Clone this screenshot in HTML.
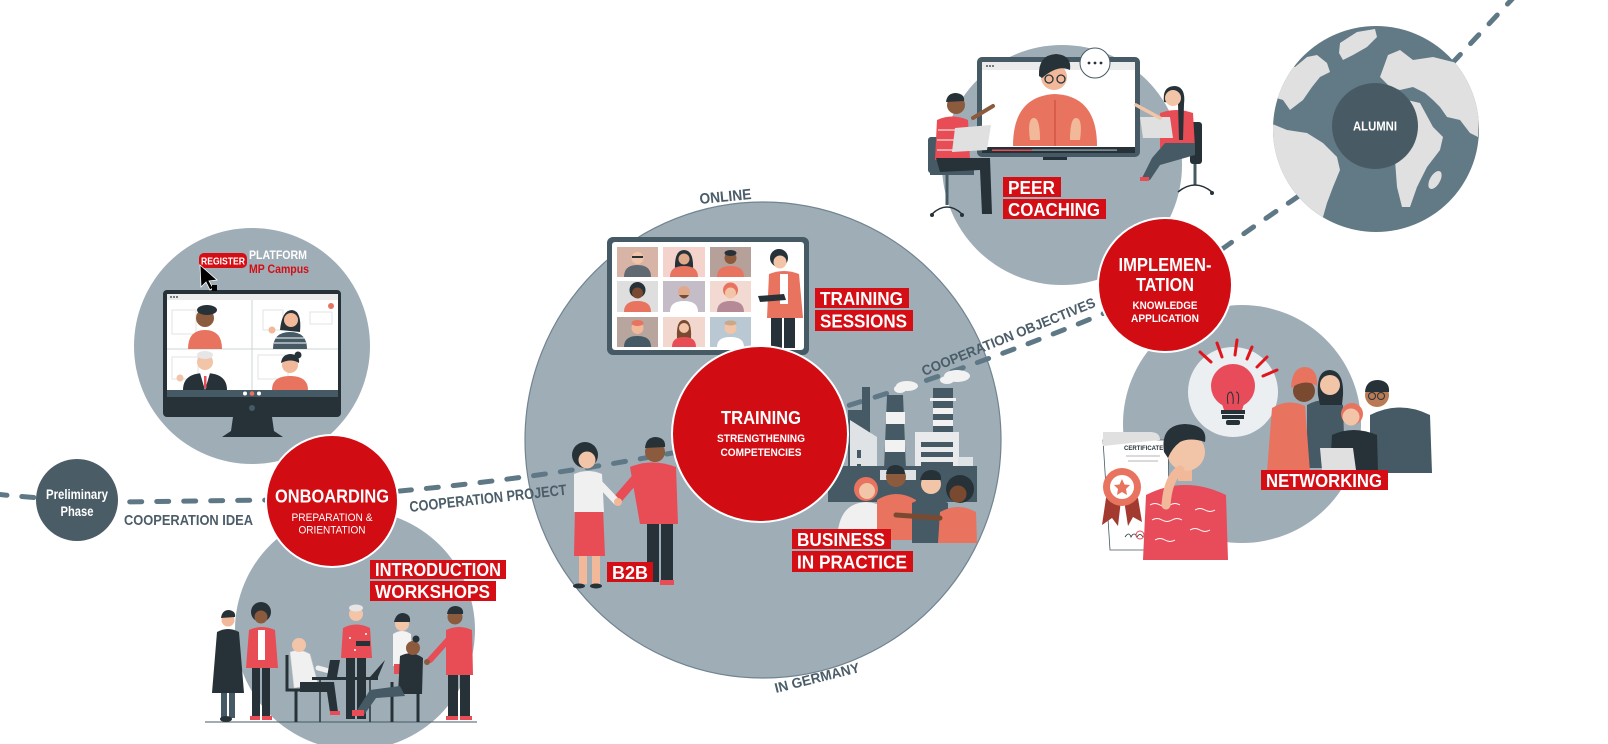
<!DOCTYPE html>
<html><head><meta charset="utf-8"><style>
html,body{margin:0;padding:0;background:#fff;overflow:hidden;}
svg{display:block;}
text{font-family:"Liberation Sans",Arial,sans-serif;}
</style></head><body>
<svg width="1608" height="744" viewBox="0 0 1608 744" xmlns="http://www.w3.org/2000/svg">
<defs>
<clipPath id="gc"><circle cx="1376" cy="129" r="103"/></clipPath>
</defs>
<!-- gray circles -->
<circle cx="252" cy="346" r="118" fill="#9fadb7"/>
<circle cx="355" cy="630" r="120" fill="#9fadb7"/>
<circle cx="763" cy="440" r="238" fill="#9fadb7" stroke="#71848f" stroke-width="1.2"/>
<circle cx="1062" cy="165" r="120" fill="#9fadb7"/>
<circle cx="1242" cy="424" r="119" fill="#9fadb7"/>

<!-- dashed path -->
<path d="M-5 494 Q40 499 120 502 L270 500 Q330 498 400 491 Q540 478 672 453 Q760 434 850 405 Q980 365 1100 315 Q1170 285 1225 247 Q1260 222 1293 200 Q1380 140 1458 57 L1515 -4" fill="none" stroke="#5f7886" stroke-width="5" stroke-dasharray="12 15" stroke-linecap="round"/>

<!-- ===== PLATFORM MONITOR ===== -->
<rect x="163" y="290" width="178" height="127" rx="4" fill="#263238"/>
<rect x="167" y="294" width="171" height="96" fill="#fff"/>
<rect x="167" y="294" width="171" height="6" fill="#ebebeb"/>
<circle cx="171" cy="297" r="1" fill="#455a64"/><circle cx="174" cy="297" r="1" fill="#455a64"/><circle cx="177" cy="297" r="1" fill="#455a64"/>
<line x1="252" y1="300" x2="252" y2="390" stroke="#cfd4d7" stroke-width="1"/>
<line x1="167" y1="349" x2="338" y2="349" stroke="#cfd4d7" stroke-width="1"/>
<rect x="172" y="310" width="24" height="24" fill="none" stroke="#e3e3e3"/>
<rect x="263" y="310" width="20" height="20" fill="none" stroke="#e3e3e3"/>
<rect x="310" y="312" width="22" height="12" fill="none" stroke="#e3e3e3"/>
<rect x="172" y="357" width="26" height="22" fill="none" stroke="#e3e3e3"/>
<rect x="258" y="355" width="30" height="24" fill="none" stroke="#e3e3e3"/>
<circle cx="331" cy="306" r="3" fill="#e8735f"/>
<!-- tile1 -->
<path d="M188 349 Q188 330 205 330 Q222 330 222 349 Z" fill="#e8735f"/>
<circle cx="205" cy="318" r="9" fill="#8c5a3c"/>
<ellipse cx="207" cy="310" rx="10" ry="5" fill="#263238"/>
<!-- tile2 -->
<path d="M273 349 Q273 332 290 332 Q307 332 307 349 Z" fill="#455a64"/>
<line x1="275" y1="338" x2="305" y2="338" stroke="#fff" stroke-width="1"/><line x1="274" y1="343" x2="306" y2="343" stroke="#fff" stroke-width="1"/>
<path d="M280 330 Q282 310 292 310 Q302 311 300 332 Z" fill="#263238"/>
<circle cx="291" cy="320" r="7" fill="#f2b89a"/>
<circle cx="272" cy="330" r="3.5" fill="#f2b89a"/>
<!-- tile3 -->
<path d="M183 390 Q183 373 205 373 Q227 373 227 390 Z" fill="#263238"/>
<path d="M200 373 L205 390 L210 373 Z" fill="#fff"/>
<rect x="204" y="376" width="2.5" height="12" fill="#e8505b"/>
<circle cx="205" cy="362" r="8" fill="#f2c4a8"/>
<ellipse cx="205" cy="355" rx="8" ry="4" fill="#e6e6e6"/>
<circle cx="180" cy="378" r="3.5" fill="#f2c4a8"/>
<!-- tile4 -->
<path d="M272 390 Q272 376 290 376 Q308 376 308 390 Z" fill="#e8735f"/>
<circle cx="290" cy="365" r="8" fill="#f2b89a"/>
<path d="M281 363 Q282 354 291 354 Q300 355 299 363 Q291 358 281 363 Z" fill="#263238"/>
<circle cx="298" cy="355" r="3.5" fill="#263238"/>
<!-- bottom bar -->
<rect x="167" y="390" width="171" height="7" fill="#455a64"/>
<circle cx="245" cy="393.5" r="2" fill="#fff"/><circle cx="252" cy="393.5" r="2.3" fill="#e8735f"/><circle cx="259" cy="393.5" r="2" fill="#fff"/>
<circle cx="252" cy="408" r="3" fill="#455a64"/>
<path d="M233 417 L272 417 L274 431 L283 437 L222 437 L231 431 Z" fill="#263238"/>
<!-- register -->
<rect x="199" y="253" width="48" height="15" rx="5" fill="#d40e14"/>
<text x="201" y="264.5" font-size="10.5" font-weight="bold" fill="#fff" textLength="44" lengthAdjust="spacingAndGlyphs">REGISTER</text>
<path d="M200 265 L201 287 L206 282 L210 290 L213 288 L209 281 L217 280 Z" fill="#000" stroke="#fff" stroke-width="0.8"/>
<rect x="212" y="285" width="5" height="6" fill="#000"/>
<text x="249" y="259" font-size="12" font-weight="bold" fill="#fff" textLength="58" lengthAdjust="spacingAndGlyphs">PLATFORM</text>
<text x="249" y="273" font-size="12" font-weight="bold" fill="#d40e14" textLength="60" lengthAdjust="spacingAndGlyphs">MP Campus</text>

<!-- ===== WORKSHOP PEOPLE ===== -->
<line x1="205" y1="722" x2="477" y2="722" stroke="#455a64" stroke-width="1"/>
<!-- 1 black dress -->
<rect x="221" y="690" width="6" height="28" fill="#455a64"/><rect x="229" y="690" width="6" height="28" fill="#455a64"/>
<path d="M217 632 Q228 626 239 632 L244 693 L212 693 Z" fill="#263238"/>
<circle cx="228" cy="620" r="6.5" fill="#f2b89a"/>
<path d="M221 618 Q222 610 229 610 Q236 611 235 617 Z" fill="#263238"/>
<ellipse cx="226" cy="719" rx="6" ry="3" fill="#263238"/>
<!-- 2 red blazer -->
<circle cx="261" cy="612" r="10" fill="#263238"/>
<circle cx="261" cy="617" r="6.5" fill="#8c5a3c"/>
<rect x="252" y="662" width="8" height="56" fill="#263238"/><rect x="262" y="662" width="8" height="56" fill="#263238"/>
<path d="M249 630 Q262 624 275 630 L278 668 L246 668 Z" fill="#e84c55"/>
<rect x="258" y="630" width="7" height="30" fill="#fff"/>
<rect x="250" y="716" width="10" height="4" fill="#e84c55"/><rect x="262" y="716" width="10" height="4" fill="#e84c55"/>
<!-- 3 sitting man -->
<path d="M287 655 L287 690 L296 690 L296 722 M287 690 L310 690" fill="none" stroke="#263238" stroke-width="3"/>
<path d="M290 652 Q300 648 310 654 L318 684 L294 688 Z" fill="#f0f0f0" stroke="#c9c9c9" stroke-width="0.6"/>
<path d="M300 682 L334 682 L338 712 L330 712 L327 692 L300 692 Z" fill="#263238"/>
<circle cx="299" cy="645" r="7" fill="#f2c4a8"/>
<path d="M318 668 L333 672" stroke="#f0f0f0" stroke-width="5" stroke-linecap="round"/>
<rect x="330" y="711" width="10" height="4" fill="#e84c55"/>
<!-- table -->
<rect x="312" y="677" width="66" height="3" fill="#263238"/>
<line x1="320" y1="680" x2="320" y2="722" stroke="#263238" stroke-width="1.5"/><line x1="370" y1="680" x2="370" y2="722" stroke="#263238" stroke-width="1.5"/>
<path d="M330 660 L340 660 L337 677 L327 677 Z" fill="#263238"/>
<path d="M385 660 L378 677 L370 677 Z" fill="#263238"/>
<!-- 5 older man -->
<rect x="346" y="655" width="9" height="64" fill="#263238"/><rect x="357" y="655" width="9" height="64" fill="#263238"/>
<path d="M343 628 Q356 621 370 628 L372 658 L341 658 Z" fill="#e84c55"/>
<circle cx="350" cy="638" r="1" fill="#fff"/><circle cx="362" cy="642" r="1" fill="#fff"/><circle cx="355" cy="650" r="1" fill="#fff"/><circle cx="366" cy="634" r="1" fill="#fff"/>
<circle cx="356" cy="614" r="7" fill="#f2c4a8"/>
<ellipse cx="356" cy="608" rx="7" ry="3.5" fill="#e6e6e6"/>
<rect x="356" y="641" width="14" height="5" fill="#263238"/>
<!-- 6 white top woman -->
<path d="M393 634 Q402 628 411 634 L412 666 L393 666 Z" fill="#f3f3f3"/>
<rect x="394" y="664" width="17" height="10" fill="#e84c55"/>
<circle cx="402" cy="624" r="7" fill="#f2c4a8"/>
<path d="M394 622 Q396 613 403 613 Q411 614 410 622 Z" fill="#263238"/>
<!-- sitting woman -->
<path d="M392 682 L392 722 M418 682 L418 722 M390 690 L420 690" fill="none" stroke="#263238" stroke-width="3"/>
<path d="M400 656 Q412 650 423 658 L422 694 L398 694 Z" fill="#263238"/>
<path d="M400 686 L370 690 L356 712 L364 715 L376 698 L405 696 Z" fill="#455a64"/>
<circle cx="413" cy="648" r="7" fill="#8c5a3c"/>
<circle cx="416" cy="639" r="3.5" fill="#263238"/>
<rect x="352" y="710" width="12" height="6" fill="#e84c55"/>
<!-- 7 red man -->
<rect x="448" y="672" width="10" height="46" fill="#263238"/><rect x="460" y="672" width="10" height="46" fill="#263238"/>
<path d="M446 630 Q459 624 472 630 L473 675 L446 675 Z" fill="#e84c55"/>
<path d="M448 640 L430 660" stroke="#e84c55" stroke-width="6" stroke-linecap="round"/>
<circle cx="427" cy="662" r="3" fill="#8c5a3c"/>
<circle cx="455" cy="617" r="7.5" fill="#8c5a3c"/>
<path d="M447 614 Q448 606 456 606 Q464 607 463 614 Z" fill="#263238"/>
<rect x="446" y="716" width="12" height="4" fill="#e84c55"/><rect x="460" y="716" width="12" height="4" fill="#e84c55"/>

<!-- ===== TRAINING TABLET ===== -->
<rect x="607" y="237" width="202" height="118" rx="6" fill="#455a64"/>
<rect x="612" y="242" width="192" height="108" rx="3" fill="#fff"/>
<!-- tiles -->
<g>
<rect x="617" y="247" width="41" height="30" fill="#d8b4a6"/><path d="M624 277 Q624 265 637.5 265 Q651 265 651 277 Z" fill="#5f6a73"/><circle cx="637.5" cy="258" r="6" fill="#f2c4a8"/><rect x="632" y="256" width="11" height="2" fill="#263238"/>
<rect x="663" y="247" width="42" height="30" fill="#f3d3cb"/><path d="M675 270 Q674 250 684 250 Q694 250 693 270 Z" fill="#263238"/><path d="M670 277 Q670 266 684 266 Q698 266 698 277 Z" fill="#e8735f"/><circle cx="684" cy="259" r="5.5" fill="#e0a98b"/>
<rect x="710" y="247" width="41" height="30" fill="#b5a19a"/><path d="M717 277 Q717 266 730.5 266 Q744 266 744 277 Z" fill="#e8735f"/><circle cx="730.5" cy="258" r="6" fill="#8c5a3c"/><ellipse cx="730.5" cy="253" rx="6" ry="3" fill="#263238"/>
<rect x="617" y="281" width="41" height="31" fill="#dedede"/><circle cx="637.5" cy="290" r="8" fill="#263238"/><path d="M624 312 Q624 301 637.5 301 Q651 301 651 312 Z" fill="#e8735f"/><circle cx="637.5" cy="293" r="5.5" fill="#7a4a30"/>
<rect x="663" y="281" width="42" height="31" fill="#c4bcc6"/><path d="M670 312 Q670 301 684 301 Q698 301 698 312 Z" fill="#fff"/><circle cx="684" cy="292" r="6" fill="#e0a98b"/><path d="M679 295 Q684 302 689 295 Z" fill="#7a4a30"/>
<rect x="710" y="281" width="41" height="31" fill="#f2d9d2"/><path d="M717 312 Q717 301 730.5 301 Q744 301 744 312 Z" fill="#b58a96"/><circle cx="730.5" cy="290" r="7.5" fill="#e8735f"/><circle cx="730.5" cy="293" r="5.5" fill="#f2c4a8"/>
<rect x="617" y="317" width="41" height="30" fill="#b7a59e"/><path d="M624 347 Q624 336 637.5 336 Q651 336 651 347 Z" fill="#455a64"/><circle cx="637.5" cy="328" r="6" fill="#f2b89a"/><ellipse cx="637.5" cy="323" rx="6" ry="3" fill="#e8735f"/>
<rect x="663" y="317" width="42" height="30" fill="#f2d7cf"/><path d="M677 338 Q676 320 684 320 Q692 320 691 338 Z" fill="#7a4a30"/><path d="M672 347 Q672 337 684 337 Q696 337 696 347 Z" fill="#e84c55"/><circle cx="684" cy="328" r="5" fill="#f2c4a8"/>
<rect x="710" y="317" width="41" height="30" fill="#b9c8d2"/><path d="M717 347 Q717 337 730.5 337 Q744 337 744 347 Z" fill="#fff"/><circle cx="730.5" cy="328" r="6" fill="#f2c4a8"/><ellipse cx="730.5" cy="323" rx="6" ry="2.5" fill="#c9a98a"/>
</g>
<!-- presenter -->
<circle cx="779" cy="258" r="9" fill="#263238"/>
<circle cx="780" cy="262" r="6.5" fill="#f2c4a8"/>
<rect x="771" y="303" width="11" height="45" fill="#263238"/><rect x="784" y="303" width="11" height="45" fill="#263238"/>
<path d="M769 274 Q784 268 799 274 L803 318 L767 318 Z" fill="#e8735f"/>
<rect x="780" y="274" width="8" height="30" fill="#fff"/>
<path d="M758 296 L784 294 L786 300 L760 302 Z" fill="#263238"/>

<!-- ===== HANDSHAKE ===== -->
<!-- man -->
<rect x="647" y="520" width="12" height="62" fill="#263238"/><rect x="661" y="520" width="12" height="62" fill="#263238"/>
<path d="M630 467 Q652 458 676 467 L678 524 L640 524 Z" fill="#e84c55"/>
<path d="M636 478 L617 500" stroke="#e84c55" stroke-width="9" stroke-linecap="round"/>
<circle cx="655" cy="452" r="10" fill="#8c5a3c"/>
<path d="M645 448 Q646 437 656 437 Q666 438 665 447 Z" fill="#263238"/>
<rect x="660" y="580" width="14" height="5" fill="#e84c55"/>
<!-- woman -->
<rect x="579" y="552" width="8" height="32" fill="#f2b89a"/><rect x="592" y="552" width="8" height="32" fill="#f2b89a"/>
<path d="M575 508 L603 508 L605 556 L574 556 Z" fill="#e84c55"/>
<path d="M574 474 Q588 468 602 474 L604 512 L574 512 Z" fill="#f0f0f0"/>
<path d="M598 482 L617 502" stroke="#f0f0f0" stroke-width="7" stroke-linecap="round"/>
<circle cx="618" cy="502" r="4" fill="#f2b89a"/>
<circle cx="585" cy="455" r="13" fill="#263238"/>
<circle cx="587" cy="460" r="8.5" fill="#f2c4a8"/>
<ellipse cx="579" cy="586" rx="6" ry="2.5" fill="#263238"/><ellipse cx="596" cy="586" rx="6" ry="2.5" fill="#263238"/>

<!-- ===== FACTORY ===== -->
<ellipse cx="907" cy="386" rx="11" ry="5" fill="#f2f2f2"/><ellipse cx="900" cy="389" rx="6" ry="4" fill="#f2f2f2"/>
<ellipse cx="957" cy="376" rx="13" ry="6" fill="#f2f2f2"/><ellipse cx="947" cy="380" rx="7" ry="4" fill="#f2f2f2"/>
<rect x="862" y="387" width="8" height="80" fill="#455a64"/>
<rect x="848" y="410" width="22" height="60" fill="#455a64"/>
<path d="M850 420 L877 437 L877 500 L850 500 Z" fill="#dfe3e6"/>
<rect x="857" y="450" width="4" height="8" fill="#455a64"/><rect x="857" y="464" width="4" height="8" fill="#455a64"/>
<path d="M887 395 L903 395 L906 470 L884 470 Z" fill="#455a64"/>
<rect x="886" y="412" width="19" height="12" fill="#f2f2f2"/><rect x="885" y="440" width="20" height="12" fill="#f2f2f2"/>
<rect x="933" y="388" width="20" height="50" fill="#455a64"/>
<rect x="930" y="398" width="26" height="3" fill="#f2f2f2"/><rect x="933" y="408" width="20" height="6" fill="#f2f2f2"/><rect x="933" y="420" width="20" height="6" fill="#f2f2f2"/>
<rect x="915" y="432" width="44" height="58" fill="#e8eaec"/>
<rect x="921" y="442" width="32" height="5" fill="#455a64"/><rect x="921" y="452" width="32" height="5" fill="#455a64"/><rect x="921" y="462" width="32" height="5" fill="#455a64"/>
<rect x="958" y="457" width="15" height="33" fill="#dfe3e6"/>
<rect x="828" y="466" width="149" height="36" fill="#455a64"/>
<rect x="880" y="470" width="36" height="10" fill="#dfe3e6"/>
<!-- factory people -->
<path d="M838 530 Q842 503 866 502 Q890 503 900 530 Z" fill="#f0f0f0"/>
<circle cx="866" cy="489" r="12" fill="#e8735f"/><circle cx="867" cy="491" r="8" fill="#f2c4a8"/>
<path d="M877 540 L877 500 Q896 488 916 500 L917 540 Z" fill="#e8735f"/>
<circle cx="896" cy="477" r="10" fill="#8c5a3c"/><path d="M886 474 Q887 465 896 465 Q905 466 905 474 Z" fill="#263238"/>
<path d="M912 543 L912 503 Q930 493 948 503 L948 543 Z" fill="#455a64"/>
<circle cx="931" cy="484" r="10" fill="#f2c4a8"/><path d="M920 480 Q922 470 932 470 Q942 471 941 480 Z" fill="#263238"/>
<path d="M938 543 L940 512 Q958 502 976 512 L977 543 Z" fill="#e8735f"/>
<circle cx="960" cy="489" r="14" fill="#263238"/><circle cx="958" cy="494" r="8.5" fill="#7a4a30"/>
<path d="M896 515 L940 518" stroke="#7a4a30" stroke-width="5" stroke-linecap="round"/>

<!-- ===== PEER COACHING ===== -->
<rect x="977" y="57" width="163" height="100" rx="5" fill="#455a64"/>
<rect x="982" y="62" width="153" height="85" fill="#fff"/>
<rect x="982" y="62" width="153" height="8" fill="#ebebeb"/>
<circle cx="987" cy="66" r="1" fill="#455a64"/><circle cx="990" cy="66" r="1" fill="#455a64"/><circle cx="993" cy="66" r="1" fill="#455a64"/>
<rect x="1043" y="157" width="24" height="3" fill="#263238"/>
<path d="M1013 146 Q1013 96 1055 94 Q1097 96 1097 146 Z" fill="#e8735f"/>
<line x1="1055" y1="100" x2="1055" y2="146" stroke="#c94a3a" stroke-width="1"/>
<circle cx="1054" cy="77" r="13" fill="#f2b89a"/>
<path d="M1039 76 Q1038 55 1056 54 Q1072 55 1070 70 Q1058 64 1042 78 Z" fill="#263238"/>
<circle cx="1049" cy="79" r="4" fill="none" stroke="#263238" stroke-width="1.3"/><circle cx="1061" cy="79" r="4" fill="none" stroke="#263238" stroke-width="1.3"/>
<path d="M1030 140 Q1027 118 1034 118 Q1040 118 1040 140 Z" fill="#f2b89a"/>
<path d="M1070 140 Q1070 118 1076 118 Q1083 118 1080 140 Z" fill="#f2b89a"/>
<rect x="982" y="147" width="153" height="6" fill="#263238"/>
<rect x="992" y="149.5" width="40" height="1.5" fill="#e84c55"/><rect x="1032" y="149.5" width="85" height="1.2" fill="#9fadb7"/>
<circle cx="1095" cy="63" r="15" fill="#fff" stroke="#455a64" stroke-width="1"/>
<circle cx="1089" cy="63" r="1.4" fill="#263238"/><circle cx="1095" cy="63" r="1.4" fill="#263238"/><circle cx="1101" cy="63" r="1.4" fill="#263238"/>
<!-- left person -->
<rect x="928" y="137" width="13" height="36" rx="3" fill="#455a64"/>
<rect x="930" y="170" width="44" height="5" fill="#455a64"/>
<line x1="947" y1="175" x2="947" y2="205" stroke="#455a64" stroke-width="3"/>
<path d="M932 214 Q947 200 962 214" fill="none" stroke="#263238" stroke-width="1.5"/>
<circle cx="932" cy="215" r="2" fill="#263238"/><circle cx="962" cy="215" r="2" fill="#263238"/>
<path d="M937 120 Q952 113 968 120 L970 160 L935 160 Z" fill="#e84c55"/>
<line x1="938" y1="130" x2="967" y2="130" stroke="#fff" stroke-width="1"/><line x1="937" y1="140" x2="968" y2="140" stroke="#fff" stroke-width="1"/><line x1="937" y1="150" x2="969" y2="150" stroke="#fff" stroke-width="1"/>
<path d="M936 158 L990 158 L992 214 L982 214 L980 170 L940 172 Z" fill="#263238"/>
<path d="M955 128 L991 125 L987 150 L952 152 Z" fill="#e0e0e0"/>
<circle cx="956" cy="105" r="9" fill="#8c5a3c"/>
<path d="M946 102 Q947 93 956 93 Q965 94 964 101 Z" fill="#263238"/>
<path d="M973 118 L993 106" stroke="#8c5a3c" stroke-width="4" stroke-linecap="round"/>
<!-- right person -->
<rect x="1190" y="122" width="12" height="42" rx="3" fill="#263238"/>
<line x1="1195" y1="164" x2="1195" y2="185" stroke="#455a64" stroke-width="3"/>
<path d="M1178 192 Q1195 178 1212 192" fill="none" stroke="#263238" stroke-width="1.5"/>
<circle cx="1212" cy="193" r="2" fill="#263238"/>
<path d="M1160 113 Q1176 107 1193 113 L1195 148 L1160 148 Z" fill="#e84c55"/>
<path d="M1165 143 L1195 143 L1195 155 L1160 165 L1150 180 L1142 178 L1152 158 Z" fill="#455a64"/>
<path d="M1140 117 L1170 117 L1173 138 L1143 138 Z" fill="#e0e0e0"/>
<path d="M1164 102 Q1162 86 1175 86 Q1186 87 1184 104 L1183 140 L1179 140 L1178 104 Z" fill="#263238"/>
<circle cx="1173" cy="98" r="8" fill="#f2c4a8"/>
<path d="M1160 118 L1136 105" stroke="#f2c4a8" stroke-width="3.5" stroke-linecap="round"/>
<rect x="1140" y="177" width="9" height="4" fill="#e84c55"/>

<!-- ===== NETWORKING ===== -->
<circle cx="1233" cy="392" r="45" fill="#eceff1"/>
<g stroke="#e0161c" stroke-width="3" stroke-linecap="round">
<line x1="1200" y1="352" x2="1211" y2="362"/><line x1="1217" y1="343" x2="1222" y2="357"/><line x1="1237" y1="340" x2="1235" y2="355"/><line x1="1252" y1="347" x2="1247" y2="359"/><line x1="1267" y1="357" x2="1257" y2="367"/><line x1="1277" y1="370" x2="1263" y2="376"/>
</g>
<circle cx="1233" cy="386" r="22" fill="#e84c5a"/>
<path d="M1220 398 L1246 398 L1242 410 L1224 410 Z" fill="#e84c5a"/>
<path d="M1228 404 Q1226 392 1231 392 Q1234 395 1233 404 M1238 404 Q1240 392 1236 392" fill="none" stroke="#263238" stroke-width="1"/>
<rect x="1221" y="410" width="24" height="4" fill="#263238"/><rect x="1222" y="415" width="22" height="4" fill="#263238"/><rect x="1226" y="420" width="14" height="5" rx="2" fill="#263238"/>
<!-- group -->
<path d="M1370 473 L1370 415 Q1400 400 1430 415 L1432 473 Z" fill="#455a64"/>
<circle cx="1377" cy="395" r="12" fill="#b97a56"/>
<path d="M1365 392 Q1366 380 1378 380 Q1390 381 1389 392 Z" fill="#263238"/>
<circle cx="1372" cy="396" r="3.5" fill="none" stroke="#263238" stroke-width="1"/><circle cx="1381" cy="396" r="3.5" fill="none" stroke="#263238" stroke-width="1"/>
<path d="M1307 468 L1307 405 Q1325 395 1343 405 L1345 468 Z" fill="#455a64"/>
<path d="M1318 395 Q1316 370 1330 370 Q1344 371 1343 395 L1342 405 L1320 405 Z" fill="#263238"/>
<circle cx="1330" cy="385" r="10" fill="#f2c4a8"/>
<path d="M1330 472 L1332 435 Q1353 425 1377 435 L1378 472 Z" fill="#263238"/>
<circle cx="1352" cy="414" r="11" fill="#e8735f"/><circle cx="1351" cy="417" r="8.5" fill="#f2c4a8"/>
<path d="M1267 472 L1272 408 Q1288 398 1305 406 L1310 472 Z" fill="#e8735f"/>
<circle cx="1304" cy="391" r="11" fill="#7a4a30"/>
<path d="M1291 388 Q1292 367 1305 367 Q1318 368 1317 386 Q1305 378 1291 388 Z" fill="#e8735f"/>
<path d="M1320 448 L1353 448 L1356 470 L1322 470 Z" fill="#e0e0e0"/>
<!-- certificate -->
<path d="M1103 440 L1168 440 L1170 550 L1110 550 Z" fill="#fff" stroke="#455a64" stroke-width="0.8"/>
<path d="M1103 432 L1150 432 Q1160 432 1160 440 L1103 446 Z" fill="#e0e0e0"/>
<text x="1124" y="450" font-size="6" font-weight="bold" fill="#263238">CERTIFICATE</text>
<line x1="1126" y1="456" x2="1160" y2="456" stroke="#9e9e9e" stroke-width="0.8"/><line x1="1128" y1="461" x2="1158" y2="461" stroke="#9e9e9e" stroke-width="0.8"/>
<path d="M1106 498 L1102 525 L1112 518 L1118 526 L1121 500 Z M1124 500 L1128 526 L1133 517 L1142 522 L1138 498 Z" fill="#a33a30"/>
<circle cx="1122" cy="487" r="19" fill="#e8735f"/>
<circle cx="1122" cy="487" r="12" fill="#fff"/>
<path d="M1122 479 L1124.5 484.5 L1130 485 L1126 489 L1127 495 L1122 492 L1117 495 L1118 489 L1114 485 L1119.5 484.5 Z" fill="#e8735f"/>
<path d="M1125 537 q4 -6 6 0 q3 -6 6 0 q3 -5 6 0" fill="none" stroke="#263238" stroke-width="0.8"/>
<circle cx="1140" cy="535" r="4" fill="none" stroke="#e84c55" stroke-width="1"/>
<!-- thinking man -->
<path d="M1143 560 L1146 495 Q1185 475 1226 495 L1228 560 Z" fill="#e84c5a"/>
<path d="M1150 505 q5 -3 10 0 q5 3 10 0 q5 -3 10 0 M1152 520 q5 -3 10 0 q5 3 10 0 q5 -3 10 0 M1190 530 q5 -3 10 0 q5 3 10 0 M1155 540 q5 -3 10 0 q5 3 10 0 M1195 510 q5 -3 10 0 q5 3 10 0" fill="none" stroke="#fff" stroke-width="1"/>
<rect x="1178" y="465" width="14" height="16" fill="#f2b89a"/>
<circle cx="1186" cy="452" r="19" fill="#f2c4a8"/>
<path d="M1164 452 Q1160 425 1185 424 Q1208 425 1205 442 Q1190 437 1180 442 Q1172 448 1168 458 Z" fill="#263238"/>
<path d="M1166 505 Q1168 478 1180 470" stroke="#f2b89a" stroke-width="9" fill="none" stroke-linecap="round"/>

<!-- ===== RED CIRCLES ===== -->
<circle cx="332" cy="501" r="66" fill="#d10c13" stroke="#fff" stroke-width="2"/>
<circle cx="760" cy="434" r="88" fill="#d10c13" stroke="#fff" stroke-width="2"/>
<circle cx="1165" cy="285" r="67" fill="#d10c13" stroke="#fff" stroke-width="2"/>
<circle cx="77" cy="500" r="41" fill="#4a5c66"/>

<!-- ===== GLOBE ===== -->
<circle cx="1376" cy="129" r="103" fill="#627a86"/>
<g clip-path="url(#gc)" fill="#e0e0e0">
<path d="M1340 43 L1357 32 L1375 29 L1377 37 L1367 47 L1353 55 L1343 60 L1339 53 Z"/>
<path d="M1295 67 L1307 57 L1317 55 L1327 63 L1330 72 L1320 77 L1312 87 L1303 100 L1290 110 L1283 100 L1270 96 L1270 60 Z"/>
<path d="M1270 123 L1287 130 L1307 133 L1323 143 L1337 157 L1340 170 L1333 187 L1327 203 L1323 217 L1300 230 L1262 200 L1262 130 Z"/>
<path d="M1380 77 L1388 55 L1400 50 L1413 60 L1433 57 L1457 63 L1473 87 L1479 117 L1478 137 L1470 133 L1460 120 L1447 117 L1440 107 L1433 100 L1425 93 L1413 87 L1400 90 L1390 87 Z"/>
<path d="M1393 110 L1407 100 L1420 103 L1433 127 L1443 137 L1440 150 L1427 167 L1417 187 L1410 207 L1402 207 L1397 187 L1395 160 L1390 140 Z"/>
<ellipse cx="1435" cy="180" rx="5" ry="10" transform="rotate(30 1435 180)"/>
</g>
<circle cx="1375" cy="126" r="43" fill="#485a64"/>
<text x="1353" y="130.5" font-size="12.5" font-weight="bold" fill="#fff" textLength="44" lengthAdjust="spacingAndGlyphs">ALUMNI</text>

<!-- ===== CIRCLE TEXT ===== -->
<g fill="#fff" font-weight="bold" text-anchor="middle">
<text x="77" y="499" font-size="14" textLength="62" lengthAdjust="spacingAndGlyphs">Preliminary</text>
<text x="77" y="516" font-size="14" textLength="33" lengthAdjust="spacingAndGlyphs">Phase</text>
<text x="332" y="502.5" font-size="18" textLength="114" lengthAdjust="spacingAndGlyphs">ONBOARDING</text>
<text x="761" y="424" font-size="18" textLength="80" lengthAdjust="spacingAndGlyphs">TRAINING</text>
<text x="761" y="442" font-size="11" textLength="88" lengthAdjust="spacingAndGlyphs">STRENGTHENING</text>
<text x="761" y="456" font-size="11" textLength="81" lengthAdjust="spacingAndGlyphs">COMPETENCIES</text>
<text x="1165" y="271" font-size="18" textLength="93" lengthAdjust="spacingAndGlyphs">IMPLEMEN-</text>
<text x="1165" y="291" font-size="18" textLength="58" lengthAdjust="spacingAndGlyphs">TATION</text>
<text x="1165" y="309" font-size="11" textLength="65" lengthAdjust="spacingAndGlyphs">KNOWLEDGE</text>
<text x="1165" y="322" font-size="11" textLength="68" lengthAdjust="spacingAndGlyphs">APPLICATION</text>
</g>
<g fill="#fff" text-anchor="middle">
<text x="332" y="521" font-size="11" textLength="81" lengthAdjust="spacingAndGlyphs">PREPARATION &amp;</text>
<text x="332" y="533.5" font-size="11" textLength="67" lengthAdjust="spacingAndGlyphs">ORIENTATION</text>
</g>

<!-- ===== GRAY LABELS ===== -->
<g fill="#4b5d68" font-weight="bold" font-size="15">
<text x="124" y="525" textLength="129" lengthAdjust="spacingAndGlyphs">COOPERATION IDEA</text>
<text transform="translate(410,512) rotate(-6.3)" textLength="158" lengthAdjust="spacingAndGlyphs">COOPERATION PROJECT</text>
<text transform="translate(924,376) rotate(-22)" font-size="14" textLength="186" lengthAdjust="spacingAndGlyphs">COOPERATION OBJECTIVES</text>
<text transform="translate(700,204) rotate(-5.5)" textLength="52" lengthAdjust="spacingAndGlyphs">ONLINE</text>
<text transform="translate(776,693) rotate(-14)" font-size="14" textLength="87" lengthAdjust="spacingAndGlyphs">IN GERMANY</text>
</g>

<!-- ===== RED LABEL BOXES ===== -->
<g fill="#d40e14">
<rect x="370" y="560" width="136" height="19"/><rect x="370" y="581" width="126" height="20"/>
<rect x="815" y="288" width="94" height="20"/><rect x="815" y="310" width="98" height="21"/>
<rect x="607" y="562" width="46" height="20"/>
<rect x="792" y="529" width="99" height="20"/><rect x="792" y="551" width="121" height="21"/>
<rect x="1003" y="177" width="58" height="20"/><rect x="1003" y="199" width="103" height="20"/>
<rect x="1261" y="470" width="127" height="20"/>
</g>
<g fill="#fff" font-weight="bold" font-size="18">
<text x="375" y="576" textLength="126" lengthAdjust="spacingAndGlyphs">INTRODUCTION</text>
<text x="375" y="598" textLength="115" lengthAdjust="spacingAndGlyphs">WORKSHOPS</text>
<text x="820" y="305" textLength="83" lengthAdjust="spacingAndGlyphs">TRAINING</text>
<text x="820" y="327.5" textLength="87" lengthAdjust="spacingAndGlyphs">SESSIONS</text>
<text x="612" y="579" textLength="36" lengthAdjust="spacingAndGlyphs">B2B</text>
<text x="797" y="546" textLength="88" lengthAdjust="spacingAndGlyphs">BUSINESS</text>
<text x="797" y="568.5" textLength="110" lengthAdjust="spacingAndGlyphs">IN PRACTICE</text>
<text x="1008" y="194" textLength="47" lengthAdjust="spacingAndGlyphs">PEER</text>
<text x="1008" y="216" textLength="92" lengthAdjust="spacingAndGlyphs">COACHING</text>
<text x="1266" y="487" textLength="116" lengthAdjust="spacingAndGlyphs">NETWORKING</text>
</g>
</svg>
</body></html>
